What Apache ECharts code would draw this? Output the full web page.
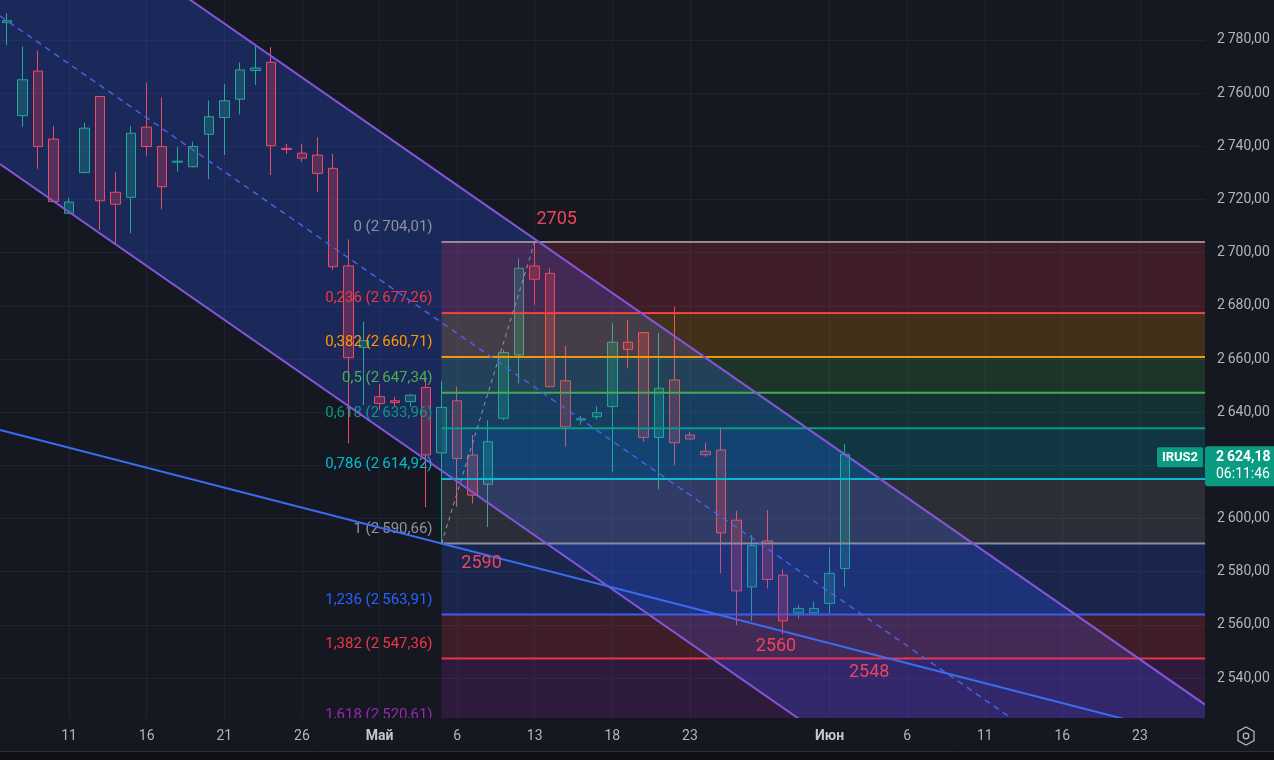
<!DOCTYPE html>
<html><head><meta charset="utf-8">
<script src="https://cdn.jsdelivr.net/npm/echarts@6/dist/echarts.min.js"></script>
<style>html,body{margin:0;padding:0;background:#151821;}#c{width:1274px;height:760px;}</style>
</head><body><div id="c"></div>
<script>
// ---- data (bar index = trading-day slot) ----
const candleOpen  = [2786.5,2751.5,2768.3,2742.7,2714.8,2730.1,2758.7,2722.7,2720.8,2747.2,2739.9,2734.0,2732.3,2744.5,2750.8,2757.7,2768.5,2771.6,2739.2,2737.4,2736.7,2731.7,2695.0,2664.4,2645.8,2644.3,2644.0,2649.3,2624.7,2644.3,2623.9,2612.9,2637.7,2661.5,2695.0,2692.2,2651.8,2637.1,2638.3,2642.1,2666.3,2669.9,2630.5,2652.1,2631.4,2625.3,2625.8,2599.4,2574.3,2591.6,2578.7,2564.5,2564.5,2568.1,2581.2];
const candleClose = [2787.2,2765.0,2739.9,2719.2,2719.0,2746.8,2719.5,2718.2,2744.9,2739.9,2724.8,2734.4,2739.9,2751.1,2757.1,2768.7,2769.4,2740.2,2738.8,2735.5,2729.8,2694.7,2660.5,2666.9,2643.3,2643.6,2646.4,2623.9,2641.8,2622.6,2608.8,2628.9,2662.4,2694.1,2690.0,2649.6,2634.5,2637.5,2639.8,2666.3,2663.6,2630.5,2649.0,2628.5,2629.9,2624.0,2594.6,2572.8,2589.8,2577.1,2561.5,2566.2,2566.2,2579.4,2624.18];
const candleLow   = [2778.0,2747.3,2731.5,2719.0,2714.5,2729.8,2708.5,2702.9,2707.3,2736.4,2716.3,2730.5,2732.1,2727.6,2736.7,2752.0,2763.1,2729.2,2737.1,2734.2,2722.9,2693.5,2628.3,2642.7,2641.0,2642.3,2641.9,2604.3,2590.66,2604.4,2605.7,2596.8,2637.0,2650.8,2680.3,2649.4,2627.0,2635.2,2637.3,2617.6,2656.5,2628.9,2611.0,2620.1,2629.9,2623.2,2579.4,2559.9,2561.5,2573.7,2556.5,2562.4,2563.7,2563.7,2574.3];
const candleHigh  = [2790.0,2777.5,2776.0,2747.6,2720.6,2748.9,2758.9,2730.2,2747.6,2763.9,2758.4,2739.9,2741.7,2757.2,2763.4,2771.5,2778.1,2777.3,2740.9,2740.9,2743.4,2737.1,2705.0,2674.0,2650.6,2645.8,2646.8,2652.7,2651.8,2649.6,2631.4,2637.0,2663.4,2697.9,2704.01,2694.1,2664.9,2638.6,2642.3,2673.4,2674.7,2670.0,2669.8,2679.7,2632.6,2628.5,2634.5,2602.9,2593.8,2603.2,2580.9,2567.4,2568.7,2589.1,2628.0];

const tickIndex  = [4,9,14,19,24,29,34,39,44,53,58,63,68,73];
const tickLabels = ['11','16','21','26','Май','6','13','18','23','Июн','6','11','16','23'];
const priceTicks = [2540,2560,2580,2600,2620,2640,2660,2680,2700,2720,2740,2760,2780];

const fibRatioText = ['0','0,236','0,382','0,5','0,618','0,786','1','1,236','1,382','1,618'];
const fibPrices    = [2704.01,2677.26,2660.71,2647.34,2633.96,2614.92,2590.66,2563.91,2547.36,2520.61];
const fibColors    = ['#8f929b','#f23645','#ff9800','#4caf50','#089981','#00bcd4','#8f929b','#2962ff','#f23645','#9c27b0'];
const fibStartIndex = 28;
const fibTrend = [[28, 2590.66], [34, 2704.01]];

const channelUpper = [[0, 2842.9], [34, 2705.1]];
const channelLower = [[0, 2731.5], [34, 2593.7]];
const trendLine    = [[0, 2632.6], [28, 2590.6]];

const noteText  = ['2705', '2590', '2560', '2548'];
const noteIndex = [34, 28, 50, 56];
const notePrice = [2704.01, 2590.66, 2556.5, 2547.36];

const lastIndex = 54, lastPrice = 2624.18, symbol = 'IRUS2', timer = '06:11:46';

// ---- layout constants ----
const X_MIN = -0.451, X_MAX = 77.19;
const FONT = 'Roboto, "Noto Sans", sans-serif';

function fmtPrice(v){
  const s = v.toFixed(2); const parts = s.split('.');
  return parts[0].replace(/\B(?=(\d{3})+(?!\d))/g, '\u2009') + ',' + parts[1];
}
function at(seg, x){ const a = seg[0], b = seg[1]; return a[1] + (b[1]-a[1])*(x-a[0])/(b[0]-a[0]); }
function hexA(hex, a){ const n = parseInt(hex.slice(1),16); return 'rgba('+(n>>16)+','+((n>>8)&255)+','+(n&255)+','+a+')'; }

const candleData = candleOpen.map((o,i)=>[i, o, candleClose[i], candleLow[i], candleHigh[i]]);

const chart = echarts.init(document.getElementById('c'), null, {renderer:'canvas'});
chart.setOption({
  backgroundColor: '#151821',
  animation: false,
  grid: {left:0, right:69, top:0, bottom:42, containLabel:false, outerBoundsMode:'none'},
  xAxis: {
    type:'value', min:X_MIN, max:X_MAX,
    axisLine:{show:false}, axisTick:{show:false, customValues: tickIndex},
    splitLine:{show:true, lineStyle:{color:'#1f2330', width:1}},
    axisLabel:{
      customValues: tickIndex, margin: 11, color:'#b2b5be', fontSize:14, fontFamily: FONT,
      formatter: v => { const k = tickIndex.indexOf(Math.round(v)); if (k<0) return ''; const t = tickLabels[k]; return /\d/.test(t) ? t : '{b|'+t+'}'; },
      rich:{ b:{fontWeight:'bold', color:'#c3c6ce', fontSize:14, fontFamily: FONT} }
    }
  },
  yAxis: {
    type:'value', position:'right', min:2525, max:2795,
    axisLine:{show:false}, axisTick:{show:false, customValues: priceTicks},
    splitLine:{show:true, lineStyle:{color:'#1f2330', width:1}},
    axisLabel:{customValues: priceTicks, formatter: fmtPrice, color:'#b2b5be', fontSize:14, fontFamily: FONT, margin:12, align:'left'}
  },
  series: [
    { // channel fill
      type:'custom', clip:true, z:1, data:[0], silent:true,
      renderItem(params, api){
        const pts = [
          api.coord([X_MIN, at(channelUpper, X_MIN)]), api.coord([X_MAX, at(channelUpper, X_MAX)]),
          api.coord([X_MAX, at(channelLower, X_MAX)]), api.coord([X_MIN, at(channelLower, X_MIN)])
        ];
        return {type:'polygon', shape:{points:pts}, style:{fill:'rgba(48,88,255,0.26)'}};
      }
    },
    {
      type:'candlestick', z:2, data: candleData, encode:{x:0, y:[1,2,3,4]}, barWidth:10,
      itemStyle:{color:'rgba(34,171,148,0.28)', color0:'rgba(242,70,95,0.28)', borderColor:'#22ab94', borderColor0:'#ee4a63', borderWidth:1}
    },
    { // fibonacci
      type:'custom', clip:true, z:3, silent:true, data: fibPrices.map((p,i)=>[i,p]),
      renderItem(params, api){
        const i = params.dataIndex; const cs = params.coordSys; const right = cs.x + cs.width;
        const p = api.coord([fibStartIndex, fibPrices[i]]); const left = p[0], y = p[1];
        const ch = [];
        if (i > 0){
          const yp = api.coord([fibStartIndex, fibPrices[i-1]])[1];
          ch.push({type:'rect', shape:{x:left, y:yp, width:right-left, height:y-yp}, style:{fill:hexA(fibColors[i], 0.19)}});
        }
        ch.push({type:'line', shape:{x1:left, y1:y, x2:right, y2:y}, style:{stroke:fibColors[i], lineWidth:2}});
        ch.push({type:'text', style:{text: fibRatioText[i]+' ('+fmtPrice(fibPrices[i])+')', x:left-9, y:y-7, align:'right', verticalAlign:'bottom', fill:fibColors[i], font:'15px '+FONT}});
        return {type:'group', children:ch};
      }
    },
    { // channel lines, trend line, fib trend
      type:'custom', clip:true, z:4, silent:true, data:[0],
      renderItem(params, api){
        const seg = (s, style) => {
          const a = api.coord([X_MIN, at(s, X_MIN)]), b = api.coord([X_MAX, at(s, X_MAX)]);
          return {type:'line', shape:{x1:a[0], y1:a[1], x2:b[0], y2:b[1]}, style};
        };
        const mid = [[channelUpper[0][0], (channelUpper[0][1]+channelLower[0][1])/2], [channelUpper[1][0], (channelUpper[1][1]+channelLower[1][1])/2]];
        const f0 = api.coord(fibTrend[0]), f1 = api.coord(fibTrend[1]);
        return {type:'group', children:[
          seg(channelUpper, {stroke:'#8455d8', lineWidth:2}),
          seg(channelLower, {stroke:'#8455d8', lineWidth:2}),
          seg(mid, {stroke:'#4663dd', lineWidth:1.5, lineDash:[6,5]}),
          seg(trendLine, {stroke:'#3b6df2', lineWidth:2}),
          {type:'line', shape:{x1:f0[0], y1:f0[1], x2:f1[0], y2:f1[1]}, style:{stroke:'#9598a1', lineWidth:1, lineDash:[4,4]}}
        ]};
      }
    },
    { // price annotations
      type:'custom', clip:true, z:5, silent:true, data: noteIndex.map((x,i)=>[x, notePrice[i]]),
      renderItem(params, api){
        const offs = [[22,-22],[40,20],[-7,12],[-7,14]];
        const i = params.dataIndex; const p = api.coord([api.value(0), api.value(1)]);
        return {type:'text', style:{text: noteText[i], x:p[0]+offs[i][0], y:p[1]+offs[i][1], align:'center', verticalAlign:'middle', fill:'#f2435c', font:'18px '+FONT}};
      }
    },
    { // last price tag
      type:'custom', clip:false, z:20, silent:true, data:[[lastIndex, lastPrice]],
      renderItem(params, api){
        const cs = params.coordSys; const right = cs.x + cs.width; const y = api.coord([api.value(0), api.value(1)])[1];
        return {type:'group', children:[
          {type:'rect', shape:{x:right-48, y:y-7, width:46, height:20, r:2}, style:{fill:'#0b9a82'}},
          {type:'text', style:{text:symbol, x:right-25, y:y+3, align:'center', verticalAlign:'middle', fill:'#ffffff', font:'bold 13px '+FONT}},
          {type:'rect', shape:{x:right, y:y-8, width:69, height:40, r:[3,0,0,3]}, style:{fill:'#0b9a82'}},
          {type:'text', style:{text:fmtPrice(api.value(1)), x:right+11, y:y+3, align:'left', verticalAlign:'middle', fill:'#ffffff', font:'bold 14px '+FONT}},
          {type:'text', style:{text:timer, x:right+11, y:y+20, align:'left', verticalAlign:'middle', fill:'#ffffff', font:'14px '+FONT}}
        ]};
      }
    }
  ],
  graphic: [
    {type:'rect', z:50, shape:{x:0, y:752, width:1274, height:8}, style:{fill:'#0e1016'}},
    {type:'line', z:50, shape:{x1:0, y1:751.5, x2:1274, y2:751.5}, style:{stroke:'#2a2e39', lineWidth:1}},
    {type:'polygon', z:50, shape:{points:[[1246,727],[1254,731.5],[1254,740.5],[1246,745],[1238,740.5],[1238,731.5]]}, style:{fill:'none', stroke:'#b2b5be', lineWidth:1.3}},
    {type:'circle', z:50, shape:{cx:1246, cy:736, r:2.8}, style:{fill:'none', stroke:'#b2b5be', lineWidth:1.3}}
  ]
});
</script></body></html>
